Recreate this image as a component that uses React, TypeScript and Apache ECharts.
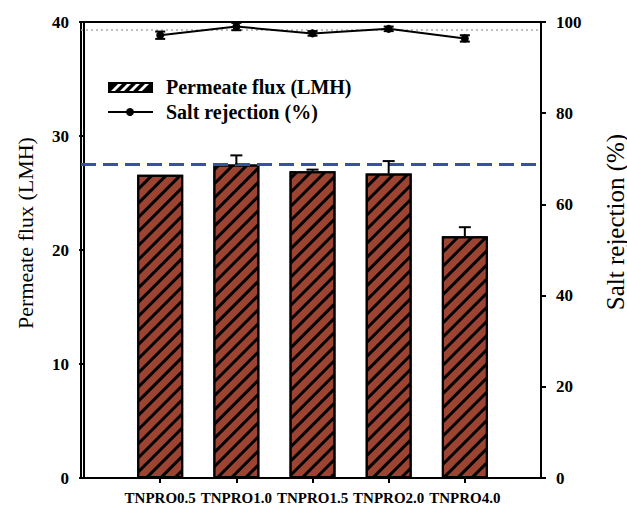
import React, { useEffect, useRef } from "react";
import * as echarts from "echarts";

const categories = ["TNPRO0.5", "TNPRO1.0", "TNPRO1.5", "TNPRO2.0", "TNPRO4.0"];
const fluxValues = [26.6, 27.5, 26.9, 26.7, 21.2];
const fluxErrors = [0, 0.8, 0.15, 1.1, 0.8];
const rejectionValues = [97.1, 99.0, 97.5, 98.5, 96.4];
const rejectionErrors = [0.8, 0.8, 0.5, 0.5, 0.7];
const fluxReference = 27.5;
const rejectionReference = 98.2;
const leftTicks = [0, 10, 20, 30, 40];
const rightTicks = [0, 20, 40, 60, 80, 100];
const leftTitle = "Permeate flux (LMH)";
const rightTitle = "Salt rejection (%)";

const SERIF = "'Liberation Serif', 'Times New Roman', serif";

function errorBarSeries(values: number[], errors: number[], yAxisIndex: number, capHalf: number, upOnly: boolean) {
  return {
    type: "custom",
    yAxisIndex,
    silent: true,
    z: 5,
    data: values.map((v, i) => [i + 1, v, errors[i]]),
    renderItem: (params: any, api: any) => {
      const x = api.value(0);
      const v = api.value(1);
      const e = api.value(2);
      if (!e) return { type: "group", children: [] };
      const top = api.coord([x, v + e]);
      const bot = api.coord([x, upOnly ? v : v - e]);
      const style = { stroke: "#000", lineWidth: 2 };
      const children: any[] = [
        { type: "line", shape: { x1: top[0], y1: top[1], x2: bot[0], y2: bot[1] }, style },
        { type: "line", shape: { x1: top[0] - capHalf, y1: top[1], x2: top[0] + capHalf, y2: top[1] }, style },
      ];
      if (!upOnly) {
        children.push({ type: "line", shape: { x1: bot[0] - capHalf, y1: bot[1], x2: bot[0] + capHalf, y2: bot[1] }, style });
      }
      return { type: "group", children };
    },
  };
}

function legendHatch(x: number, y: number, w: number, h: number) {
  const children: any[] = [
    { type: "rect", shape: { x, y, width: w, height: h }, style: { fill: "#000" } },
  ];
  for (let a = x + 3; a + 11 <= x + w - 2; a += 9) {
    children.push({
      type: "polygon",
      shape: { points: [[a, y + h - 2], [a + 4, y + h - 2], [a + 11, y + 2], [a + 7, y + 2]] },
      style: { fill: "#fff" },
    });
  }
  return children;
}

export default function App() {
  const ref = useRef<HTMLDivElement>(null);
  useEffect(() => {
    if (!ref.current) return;
    const chart = echarts.init(ref.current, null, { renderer: "svg" });
    const tickLabel = { fontFamily: SERIF, fontWeight: "bold", fontSize: 17, color: "#000" };
    const option: any = {
      animation: false,
      backgroundColor: "#fff",
      grid: { left: 81, right: 86, top: 22, bottom: 29, show: true, borderColor: "#000", borderWidth: 2, backgroundColor: "transparent" },
      xAxis: {
        type: "value",
        min: -0.04,
        max: 6,
        axisLine: { show: true, onZero: false, lineStyle: { color: "#000", width: 2 } },
        axisTick: { show: true, customValues: [1, 2, 3, 4, 5], length: 5, lineStyle: { color: "#000", width: 2 } },
        axisLabel: {
          customValues: [1, 2, 3, 4, 5],
          formatter: (v: number) => categories[Math.round(v) - 1] || "",
          fontFamily: SERIF, fontWeight: "bold", fontSize: 15, color: "#000", margin: 12,
        },
        splitLine: { show: false },
      },
      yAxis: [
        {
          type: "value",
          min: 0,
          max: 40,
          interval: 10,
          position: "left",
          axisLine: { show: true, lineStyle: { color: "#000", width: 2 } },
          axisTick: { show: true, length: 5, lineStyle: { color: "#000", width: 2 } },
          axisLabel: { ...tickLabel, margin: 12, formatter: (v: number) => (leftTicks.includes(v) ? String(v) : "") },
          splitLine: { show: false },
        },
        {
          type: "value",
          min: 0,
          max: 100,
          interval: 20,
          position: "right",
          axisLine: { show: true, lineStyle: { color: "#000", width: 2 } },
          axisTick: { show: true, length: 5, lineStyle: { color: "#000", width: 2 } },
          axisLabel: { ...tickLabel, margin: 15, formatter: (v: number) => (rightTicks.includes(v) ? String(v) : "") },
          splitLine: { show: false },
        },
      ],
      series: [
        {
          name: leftTitle,
          type: "bar",
          yAxisIndex: 0,
          barWidth: 46,
          data: fluxValues.map((v, i) => [i + 1, v]),
          itemStyle: {
            color: "#9c4431",
            borderColor: "#000",
            borderWidth: 2,
            decal: {
              symbol: "rect",
              symbolSize: 1,
              dashArrayX: [1, 0],
              dashArrayY: [3, 7],
              rotation: -Math.PI / 4,
              color: "#000",
            },
          },
          markLine: {
            silent: true,
            symbol: "none",
            label: { show: false },
            lineStyle: { color: "#3850a8", type: [15, 7], width: 3 },
            data: [{ yAxis: fluxReference }],
          },
        },
        errorBarSeries(fluxValues, fluxErrors, 0, 6, true),
        {
          name: rightTitle,
          type: "line",
          yAxisIndex: 1,
          data: rejectionValues.map((v, i) => [i + 1, v]),
          symbol: "circle",
          symbolSize: 8,
          itemStyle: { color: "#000" },
          lineStyle: { color: "#000", width: 2 },
          z: 6,
          markLine: {
            silent: true,
            symbol: "none",
            label: { show: false },
            lineStyle: { color: "#aaaaaa", type: [2, 3], width: 1.5 },
            data: [{ yAxis: rejectionReference }],
          },
        },
        errorBarSeries(rejectionValues, rejectionErrors, 1, 5, false),
      ],
      graphic: [
        { type: "group", children: legendHatch(108, 82, 45, 11) },
        { type: "text", x: 166, y: 87, style: { text: leftTitle, font: `bold 20px ${SERIF}`, fill: "#000", verticalAlign: "middle" } },
        { type: "line", shape: { x1: 108, y1: 112, x2: 153, y2: 112 }, style: { stroke: "#000", lineWidth: 2 } },
        { type: "circle", shape: { cx: 130, cy: 112, r: 4 }, style: { fill: "#000" } },
        { type: "text", x: 166, y: 112, style: { text: rightTitle, font: `bold 20px ${SERIF}`, fill: "#000", verticalAlign: "middle" } },
        { type: "text", x: 25, y: 233, rotation: Math.PI / 2, style: { text: leftTitle, font: `22px ${SERIF}`, fill: "#000", align: "center", verticalAlign: "middle" } },
        { type: "text", x: 615, y: 222, rotation: Math.PI / 2, style: { text: rightTitle, font: `25px ${SERIF}`, fill: "#000", align: "center", verticalAlign: "middle" } },
      ],
    };
    chart.setOption(option);
    return () => chart.dispose();
  }, []);
  return <div ref={ref} style={{ position: "fixed", left: 0, top: 0, width: 627, height: 507 }} />;
}
